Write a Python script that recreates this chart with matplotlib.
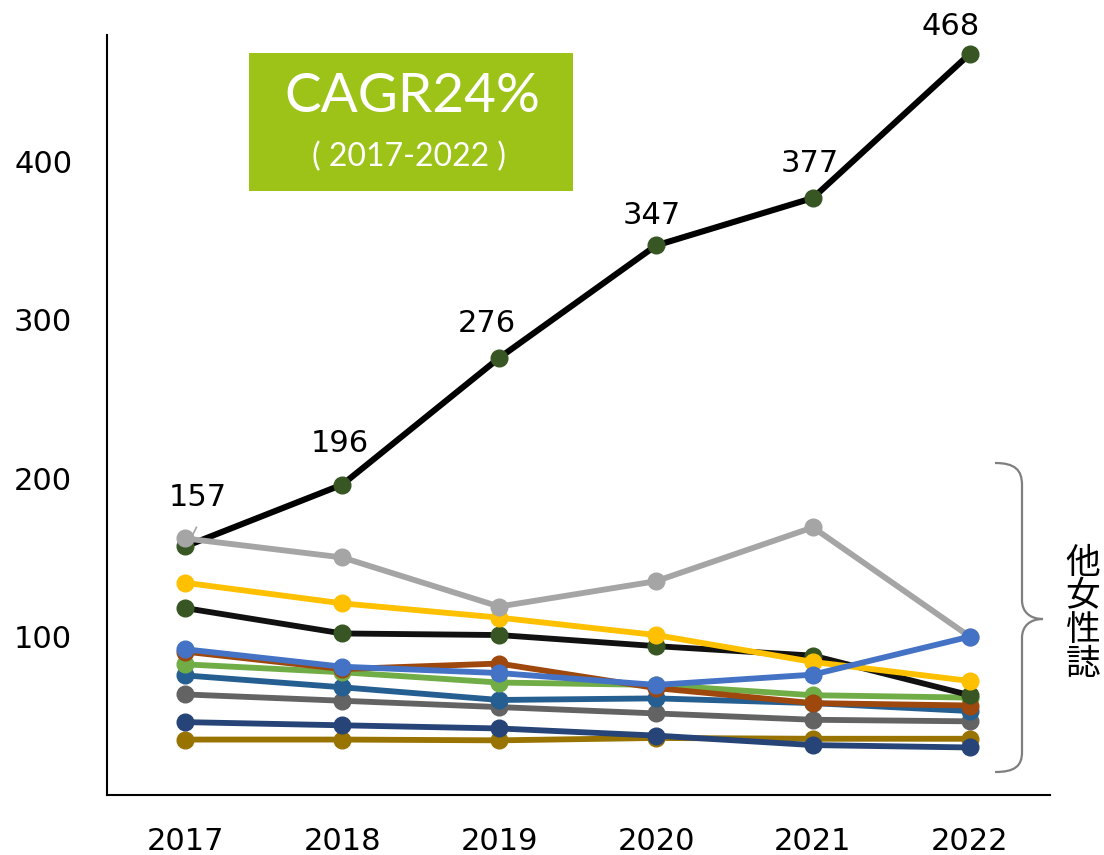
import numpy as np
import matplotlib
matplotlib.use("Agg")
import matplotlib.pyplot as plt
from matplotlib.path import Path
from matplotlib.patches import PathPatch, Rectangle
from matplotlib.transforms import Affine2D

# Data
years = ["2017", "2018", "2019", "2020", "2021", "2022"]
main_series = [157, 196, 276, 347, 377, 468]

gray_light = [162, 150, 119, 135, 169, 100]
yellow = [134, 121, 112, 101, 84, 72]
black_green = [118, 102, 101, 94, 88, 63]
blue = [92, 81, 77, 69.5, 76, 100]
brown = [90.5, 79.5, 83, 67.5, 58, 56.5]
green = [82.5, 77.5, 71, 69.5, 63, 61.5]
teal = [75.5, 68, 60, 61, 58, 53]
gray_dark = [63.5, 59.5, 55.5, 51.5, 47.5, 46.5]
navy = [46, 44, 42, 37.5, 31.5, 30]
olive = [35, 35, 34.5, 36, 35.5, 35.5]

# (values, line colour, marker colour), bottom to top
others = [
    (olive, "#997300", "#997300"),
    (navy, "#264478", "#264478"),
    (gray_dark, "#636363", "#636363"),
    (teal, "#255E91", "#255E91"),
    (green, "#70AD47", "#70AD47"),
    (brown, "#9E480E", "#9E480E"),
    (black_green, "#111111", "#375623"),
    (yellow, "#FFC000", "#FFC000"),
    (gray_light, "#A5A5A5", "#A5A5A5"),
    (blue, "#4472C4", "#4472C4"),
]

fig = plt.figure(figsize=(11.04, 8.55), dpi=100)
ax = fig.add_axes([0.0969, 0.0702, 0.854, 0.889])
x = np.arange(len(years))

ax.plot(x, main_series, color="black", lw=4.4, marker="o", ms=12,
        mfc="#375623", mec="#375623", zorder=2)
for i, (vals, lc, mc) in enumerate(others):
    ax.plot(x, vals, color=lc, lw=4.2, marker="o", ms=12,
            mfc=mc, mec=mc, zorder=3 + i)

# data labels of the main series
offsets = [(9, 35), (-2, 29.5), (-9, 25), (-3, 21.5), (-2, 25), (-14, 20)]
for xi, v, off in zip(x, main_series, offsets):
    ax.annotate(str(v), (xi, v), xytext=off, textcoords="offset points",
                ha="center", va="center", fontsize=22, zorder=20)
ax.plot([x[0] + 0.03, x[0] + 0.07], [main_series[0] + 4, main_series[0] + 12],
        color="#A5A5A5", lw=1.2, zorder=20)

ax.set_xlim(-0.5, len(years) - 0.49)
ax.set_ylim(0, 480)
ax.set_xticks(x)
ax.set_xticklabels(years)
ax.set_yticks([100, 200, 300, 400])
ax.tick_params(axis="both", length=0, labelsize=22)
ax.tick_params(axis="y", pad=25)
ax.tick_params(axis="x", pad=23)
for s in ["top", "right"]:
    ax.spines[s].set_visible(False)
for s in ["left", "bottom"]:
    ax.spines[s].set_linewidth(1.5)

# CAGR box
px = Affine2D().scale(1 / 1104, -1 / 855).translate(0, 1) + fig.transFigure
fig.patches.append(Rectangle((249, 53), 324, 138, transform=px,
                             facecolor="#9DC319", edgecolor="none"))
fig.text(412, 96, "CAGR24%", transform=px, ha="center", va="center",
         color="white", fontsize=39.5, family="Lato")
fig.text(409, 157, "( 2017-2022 )", transform=px, ha="center", va="center",
         color="white", fontsize=23, family="Lato")

# brace
verts = [(995, 463), (1015, 463), (1022, 470), (1022, 485),
         (1022, 600),
         (1022, 612), (1030, 619), (1043, 619),
         (1030, 619), (1022, 626), (1022, 638),
         (1022, 752),
         (1022, 766), (1015, 772), (995, 772)]
codes = [Path.MOVETO, Path.CURVE4, Path.CURVE4, Path.CURVE4,
         Path.LINETO,
         Path.CURVE4, Path.CURVE4, Path.CURVE4,
         Path.CURVE4, Path.CURVE4, Path.CURVE4,
         Path.LINETO,
         Path.CURVE4, Path.CURVE4, Path.CURVE4]
fig.patches.append(PathPatch(Path(verts, codes), transform=px, facecolor="none",
                             edgecolor="#7F7F7F", lw=1.6))
fig.text(1083, 614, "他\n女\n性\n誌", transform=px, ha="center", va="center",
         fontsize=25, linespacing=0.95, family="Noto Sans CJK JP")

fig.savefig("out.png", dpi=100)
